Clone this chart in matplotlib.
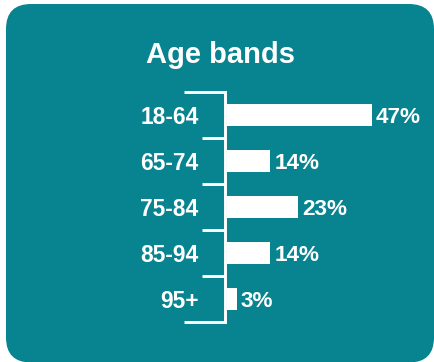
import matplotlib.pyplot as plt
from matplotlib.patches import FancyBboxPatch
from matplotlib.transforms import blended_transform_factory

bands = ['18-64', '65-74', '75-84', '85-94', '95+']
shares = [47, 14, 23, 14, 3]

TEAL = '#07848f'
LW = 2.1
plt.rcParams['font.family'] = ['Liberation Sans', 'DejaVu Sans']
plt.rcParams['font.weight'] = 'bold'

W, H, DPI = 4.35, 3.62, 100
fig = plt.figure(figsize=(W, H), dpi=DPI)
fig.patch.set_facecolor('white')

# rounded teal card behind everything
card = FancyBboxPatch((0.06, -0.005), 4.28, 3.585,
                      boxstyle='round,pad=0,rounding_size=0.25',
                      transform=fig.dpi_scale_trans,
                      facecolor=TEAL, edgecolor='none', zorder=-5)
fig.patches.append(card)

fig.text(221 / 435, 1 - 63 / 362, 'Age bands', ha='center', va='baseline',
         color='white', fontsize=21, fontweight='bold')

ax_left, ax_w = 227.3 / 435, 184.3 / 435
ax = fig.add_axes([ax_left, 1 - 322 / 362, ax_w, 230 / 362])
ax.patch.set_visible(False)

ax.barh(range(len(bands)), shares, height=0.47, color='white', zorder=3)
ax.set_ylim(4.5, -0.5)
ax.set_xlim(0, 60)

for i, v in enumerate(shares):
    ax.annotate(f'{v}%', xy=(v, i), xytext=(4, 0), textcoords='offset pixels',
                ha='left', va='center_baseline', color='white',
                fontsize=16.2, fontweight='bold')

for s in ['top', 'right', 'bottom']:
    ax.spines[s].set_visible(False)
ax.spines['left'].set_color('white')
ax.spines['left'].set_linewidth(LW)
ax.spines['left'].set_position(('outward', 1.7))

ax.set_xticks([])
ax.set_yticks(range(len(bands)))
ax.set_yticklabels(bands)
ax.tick_params(axis='y', which='major', length=0, pad=19,
               labelsize=16.4, labelcolor='white')
ax.set_yticks([0.5, 1.5, 2.5, 3.5], minor=True)
ax.tick_params(axis='y', which='minor', length=16.5, width=LW, color='white')

# longer caps at both ends of the bracket
tr = blended_transform_factory(ax.transAxes, ax.transData)
spine_x = -2.3 / 184.3
cap_x = -(2.3 + 41) / 184.3
for y in (-0.5, 4.5):
    ax.plot([cap_x, spine_x + 1.4 / 184.3], [y, y], color='white', lw=LW,
            transform=tr, clip_on=False, solid_capstyle='butt')

fig.savefig('out.png', dpi=DPI)
